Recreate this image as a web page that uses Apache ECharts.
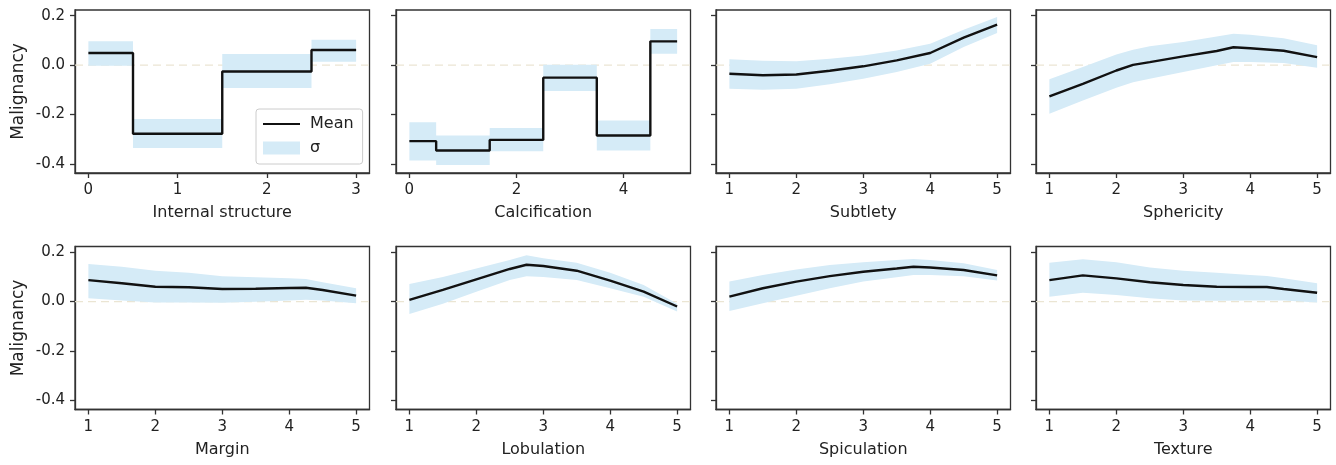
<!DOCTYPE html>
<html><head><meta charset="utf-8">
<script src="https://cdn.jsdelivr.net/npm/echarts@6/dist/echarts.min.js"></script>
<style>html,body{margin:0;padding:0;background:#fff}#c{width:1336px;height:465px}</style>
</head><body><div id="c"></div>
<script>
// ---------- data ----------
const yTickValues = [-0.4, -0.2, 0, 0.2];

const internalX    = [0, 1, 2, 3];
const internalMean = [0.049, -0.278, -0.026, 0.061];
const internalHi   = [0.096, -0.218, 0.045, 0.103];
const internalLo   = [-0.003, -0.336, -0.093, 0.013];

const calcX    = [0, 1, 2, 3, 4, 5];
const calcMean = [-0.308, -0.346, -0.303, -0.051, -0.285, 0.096];
const calcHi   = [-0.232, -0.285, -0.255, 0.001, -0.224, 0.146];
const calcLo   = [-0.386, -0.405, -0.349, -0.105, -0.346, 0.046];

const subtletyX    = [1, 1.5, 2, 2.5, 3, 3.5, 4, 4.5, 5];
const subtletyMean = [-0.035, -0.041, -0.038, -0.023, -0.005, 0.019, 0.049, 0.111, 0.164];
const subtletyHi   = [0.024, 0.018, 0.015, 0.026, 0.039, 0.059, 0.086, 0.143, 0.195];
const subtletyLo   = [-0.096, -0.100, -0.096, -0.078, -0.055, -0.028, 0.005, 0.073, 0.130];

const sphericityX    = [1, 1.5, 2, 2.25, 2.5, 3, 3.5, 3.75, 4, 4.5, 5];
const sphericityMean = [-0.127, -0.076, -0.022, 0.001, 0.012, 0.035, 0.057, 0.072, 0.068, 0.058, 0.032];
const sphericityHi   = [-0.057, -0.008, 0.043, 0.062, 0.076, 0.093, 0.116, 0.127, 0.123, 0.109, 0.080];
const sphericityLo   = [-0.197, -0.143, -0.092, -0.070, -0.055, -0.028, -0.001, 0.012, 0.012, 0.008, -0.011];

const marginX    = [1, 1.5, 2, 2.5, 3, 3.5, 4, 4.25, 4.5, 5];
const marginMean = [0.087, 0.074, 0.060, 0.058, 0.051, 0.052, 0.055, 0.056, 0.047, 0.024];
const marginHi   = [0.152, 0.141, 0.125, 0.117, 0.103, 0.098, 0.094, 0.091, 0.078, 0.054];
const marginLo   = [0.013, 0.004, -0.004, -0.004, -0.005, -0.001, 0.004, 0.007, 0.004, -0.007];

const lobulationX    = [1, 1.5, 2, 2.5, 2.75, 3, 3.5, 4, 4.5, 5];
const lobulationMean = [0.007, 0.047, 0.090, 0.132, 0.149, 0.144, 0.125, 0.085, 0.040, -0.020];
const lobulationHi   = [0.071, 0.100, 0.134, 0.168, 0.188, 0.175, 0.157, 0.117, 0.067, -0.009];
const lobulationLo   = [-0.050, -0.009, 0.040, 0.087, 0.103, 0.100, 0.087, 0.054, 0.020, -0.040];

const spiculationX    = [1, 1.5, 2, 2.5, 3, 3.5, 3.75, 4, 4.5, 5];
const spiculationMean = [0.020, 0.054, 0.081, 0.103, 0.121, 0.134, 0.141, 0.138, 0.128, 0.106];
const spiculationHi   = [0.081, 0.108, 0.130, 0.148, 0.159, 0.168, 0.172, 0.168, 0.155, 0.128];
const spiculationLo   = [-0.038, -0.007, 0.024, 0.054, 0.081, 0.098, 0.108, 0.108, 0.103, 0.085];

const textureX    = [1, 1.5, 2, 2.5, 3, 3.5, 4, 4.25, 4.5, 5];
const textureMean = [0.087, 0.106, 0.094, 0.078, 0.067, 0.060, 0.059, 0.059, 0.051, 0.036];
const textureHi   = [0.157, 0.171, 0.159, 0.138, 0.125, 0.117, 0.108, 0.104, 0.094, 0.074];
const textureLo   = [0.020, 0.036, 0.027, 0.013, 0.004, 0.003, 0.004, 0.004, 0.004, -0.004];

const panelNames = ['Internal structure', 'Calcification', 'Subtlety', 'Sphericity',
                    'Margin', 'Lobulation', 'Spiculation', 'Texture'];
const xTickSets = [[0, 1, 2, 3], [0, 2, 4], [1, 2, 3, 4, 5], [1, 2, 3, 4, 5],
                   [1, 2, 3, 4, 5], [1, 2, 3, 4, 5], [1, 2, 3, 4, 5], [1, 2, 3, 4, 5]];

// ---------- build ----------
const panels = [
  {x: internalX, mean: internalMean, hi: internalHi, lo: internalLo, step: true, xr: [0, 3]},
  {x: calcX, mean: calcMean, hi: calcHi, lo: calcLo, step: true, xr: [0, 5]},
  {x: subtletyX, mean: subtletyMean, hi: subtletyHi, lo: subtletyLo, step: false, xr: [1, 5]},
  {x: sphericityX, mean: sphericityMean, hi: sphericityHi, lo: sphericityLo, step: false, xr: [1, 5]},
  {x: marginX, mean: marginMean, hi: marginHi, lo: marginLo, step: false, xr: [1, 5]},
  {x: lobulationX, mean: lobulationMean, hi: lobulationHi, lo: lobulationLo, step: false, xr: [1, 5]},
  {x: spiculationX, mean: spiculationMean, hi: spiculationHi, lo: spiculationLo, step: false, xr: [1, 5]},
  {x: textureX, mean: textureMean, hi: textureHi, lo: textureLo, step: false, xr: [1, 5]}
];

const FONT = 'DejaVu Sans';
const AX = '#333333';
const TXT = '#222222';
const BAND = '#d5ebf7';
const ZERO = '#ebe5d3';
const colLeft = [75, 396, 716, 1036];
const rowTop = [10, 246.5];
const W = 294.5, H = 163;
const Y_MIN = -0.437, Y_MAX = 0.223;

function bandRenderer(p) {
  return function (params, api) {
    if (params.dataIndex !== 0) return null;
    const n = p.x.length;
    const top = [], bot = [];
    if (p.step) {
      for (let k = 0; k < n; k++) {
        const l = k === 0 ? p.x[0] : (p.x[k - 1] + p.x[k]) / 2;
        const r = k === n - 1 ? p.x[n - 1] : (p.x[k] + p.x[k + 1]) / 2;
        top.push(api.coord([l, p.hi[k]]), api.coord([r, p.hi[k]]));
        bot.push(api.coord([l, p.lo[k]]), api.coord([r, p.lo[k]]));
      }
    } else {
      for (let k = 0; k < n; k++) {
        top.push(api.coord([p.x[k], p.hi[k]]));
        bot.push(api.coord([p.x[k], p.lo[k]]));
      }
    }
    return {
      type: 'polygon',
      shape: {points: top.concat(bot.reverse())},
      style: {fill: BAND, stroke: null},
      silent: true
    };
  };
}

const grids = [], xAxes = [], yAxes = [], series = [];
panels.forEach((p, i) => {
  const r = Math.floor(i / 4), c = i % 4;
  grids.push({left: colLeft[c], top: rowTop[r], width: W, height: H,
    show: true, borderColor: AX, borderWidth: 1.3, backgroundColor: 'transparent',
    containLabel: false, outerBoundsMode: 'none'});
  const span = p.xr[1] - p.xr[0];
  const xMin = p.xr[0] - 0.05 * span, xMax = p.xr[1] + 0.05 * span;
  xAxes.push({
    type: 'value', gridIndex: i, min: xMin, max: xMax,
    name: panelNames[i], nameLocation: 'middle', nameGap: 32,
    nameTextStyle: {fontSize: 16, color: TXT, fontFamily: FONT},
    axisLine: {show: true, onZero: false, lineStyle: {color: AX, width: 1.3}},
    axisTick: {show: true, inside: false, length: 5, customValues: xTickSets[i], lineStyle: {color: AX, width: 1.3}},
    axisLabel: {show: true, customValues: xTickSets[i], fontSize: 15, color: TXT, fontFamily: FONT, margin: 10,
      formatter: v => String(v)},
    splitLine: {show: false}
  });
  yAxes.push({
    type: 'value', gridIndex: i, min: Y_MIN, max: Y_MAX,
    name: c === 0 ? 'Malignancy' : '', nameLocation: 'middle', nameGap: 48,
    nameTextStyle: {fontSize: 17, color: TXT, fontFamily: FONT},
    axisLine: {show: true, onZero: false, lineStyle: {color: AX, width: 1.3}},
    axisTick: {show: true, inside: false, length: 5, customValues: yTickValues, lineStyle: {color: AX, width: 1.3}},
    axisLabel: {show: c === 0, customValues: yTickValues, fontSize: 15, color: TXT, fontFamily: FONT, margin: 10,
      formatter: v => (Math.abs(v) < 1e-9 ? '0.0' : v.toFixed(1))},
    splitLine: {show: false}
  });
  const step = p.step ? 'middle' : false;
  // zero reference line (underneath everything)
  series.push({
    type: 'line', name: 'zero', xAxisIndex: i, yAxisIndex: i,
    data: [[xMin, 0], [xMax, 0]], silent: true, symbol: 'none', showSymbol: false,
    lineStyle: {color: ZERO, type: [8, 5], width: 1.3},
    z: 0, zlevel: 0
  });
  // sigma band
  series.push({
    type: 'custom', name: 'σ', xAxisIndex: i, yAxisIndex: i,
    data: p.x.map((xv, k) => [xv, p.lo[k], p.hi[k]]),
    encode: {x: 0, y: [1, 2]},
    renderItem: bandRenderer(p),
    itemStyle: {color: BAND}, silent: true,
    z: 2
  });
  // mean
  series.push({
    type: 'line', name: 'Mean', xAxisIndex: i, yAxisIndex: i,
    data: p.x.map((xv, k) => [xv, p.mean[k]]),
    step: step, symbol: 'none', showSymbol: false, silent: true,
    lineStyle: {color: '#111111', width: 2.4}, itemStyle: {color: '#111111'},
    z: 3
  });
});

const chart = echarts.init(document.getElementById('c'), null, {renderer: 'canvas'});
chart.setOption({
  animation: false,
  backgroundColor: '#ffffff',
  grid: grids, xAxis: xAxes, yAxis: yAxes, series: series,
  legend: {
    left: 256, top: 109, orient: 'vertical', selectedMode: false,
    itemWidth: 37, itemHeight: 13, itemGap: 8, padding: [7, 9, 8, 6],
    borderColor: '#cccccc', borderWidth: 1, borderRadius: 3, backgroundColor: '#ffffff',
    textStyle: {fontSize: 16, color: TXT, fontFamily: FONT, padding: [0, 0, 0, 5]},
    data: [
      {name: 'Mean', itemStyle: {opacity: 0}},
      {name: 'σ', icon: 'rect', itemStyle: {color: BAND}}
    ],
    z: 10
  }
});
</script></body></html>
